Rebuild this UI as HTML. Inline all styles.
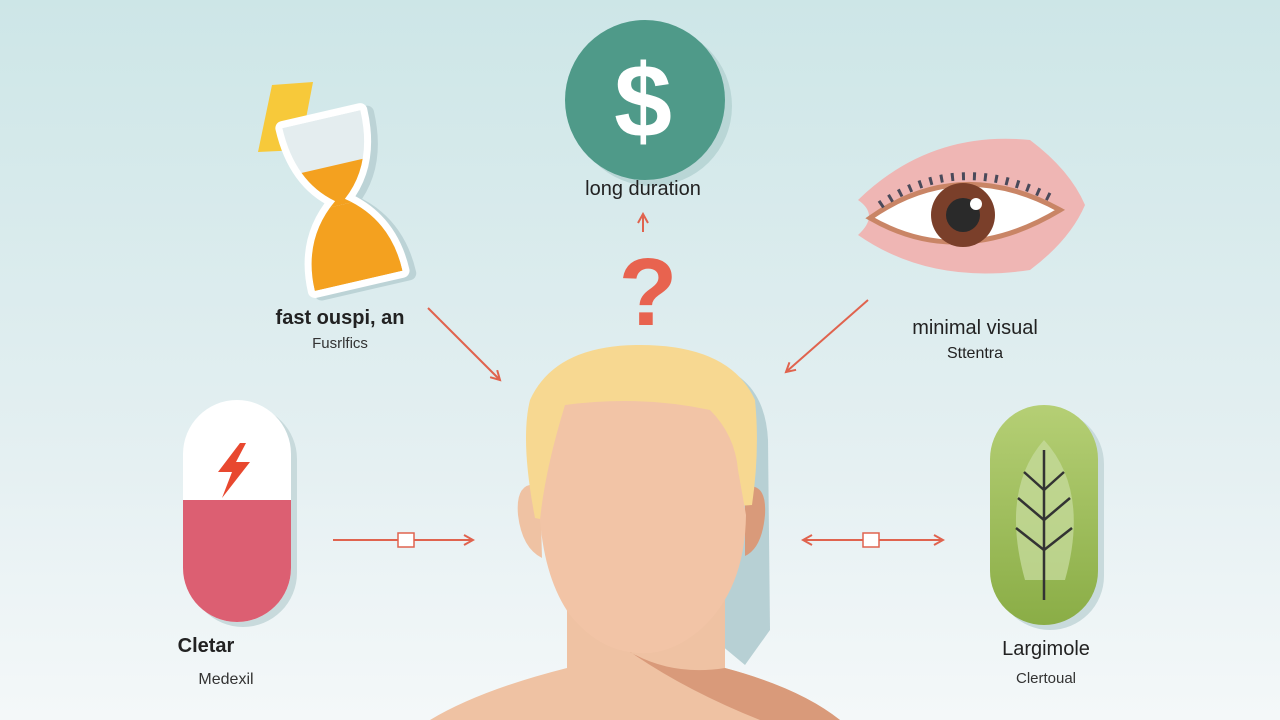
<!DOCTYPE html>
<html><head><meta charset="utf-8"><style>
html,body{margin:0;padding:0;width:1280px;height:720px;overflow:hidden}
svg{display:block}
text{font-family:"Liberation Sans",sans-serif}
</style></head><body>
<svg width="1280" height="720" viewBox="0 0 1280 720" xmlns="http://www.w3.org/2000/svg">
<defs>
<linearGradient id="bg" x1="0" y1="0" x2="0" y2="1">
<stop offset="0" stop-color="#cde6e7"/><stop offset="0.6" stop-color="#e3eff1"/><stop offset="1" stop-color="#f4f8f9"/>
</linearGradient>
<linearGradient id="gr" x1="0" y1="0" x2="0" y2="1"><stop offset="0" stop-color="#b5cf75"/><stop offset="1" stop-color="#8aad46"/></linearGradient>
<marker id="ah" markerWidth="12" markerHeight="12" refX="10" refY="6" orient="auto" markerUnits="userSpaceOnUse"><path d="M1,1 L10,6 L1,11" fill="none" stroke="#e0634e" stroke-width="2"/></marker>
<clipPath id="hg"><path d="M300,117 L380,117 Q380,172 345,200 Q385,230 385,283 L295,283 Q295,230 335,200 Q300,172 300,117 Z"/></clipPath>
</defs>
<rect width="1280" height="720" fill="url(#bg)"/>

<!-- dollar -->
<circle cx="652" cy="106" r="80" fill="#b9d6d6"/>
<circle cx="645" cy="100" r="80" fill="#4f9a89"/>
<text x="643" y="137" font-size="104" font-weight="bold" fill="#fff" text-anchor="middle">$</text>
<text x="643" y="195" font-size="20" fill="#222" text-anchor="middle">long duration</text>
<line x1="643" y1="232" x2="643" y2="214" stroke="#e0634e" stroke-width="2" marker-end="url(#ah)"/>
<text x="648" y="325" font-size="96" font-weight="bold" fill="#e8634f" text-anchor="middle">?</text>

<!-- hourglass -->
<polygon points="272,85 313,82 300,150 258,152" fill="#f7c93a"/>
<g transform="rotate(-13 340 200)">
<path d="M300,117 L380,117 Q380,172 345,200 Q385,230 385,283 L295,283 Q295,230 335,200 Q300,172 300,117 Z" fill="#bcd3d6" stroke="#bcd3d6" stroke-width="14" stroke-linejoin="round" transform="translate(6,4)"/>
<path d="M300,117 L380,117 Q380,172 345,200 Q385,230 385,283 L295,283 Q295,230 335,200 Q300,172 300,117 Z" fill="#fff" stroke="#fff" stroke-width="14" stroke-linejoin="round"/>
<g clip-path="url(#hg)">
<rect x="290" y="110" width="100" height="180" fill="#e4edef"/>
<rect x="290" y="165" width="100" height="40" fill="#f4a11f"/>
<rect x="290" y="205" width="100" height="85" fill="#f4a11f"/>
</g>
</g>
<text x="340" y="324" font-size="20" font-weight="bold" fill="#222" text-anchor="middle">fast ouspi, an</text>
<text x="340" y="348" font-size="15" fill="#333" text-anchor="middle">Fusrlfics</text>

<!-- eye -->
<path d="M858,200 Q930,130 1030,140 Q1070,170 1085,205 Q1070,240 1030,270 Q930,285 858,235 Q880,215 858,200 Z" fill="#efb6b4"/>
<path d="M870,218 Q960,155 1060,210 Q960,270 870,218 Z" fill="#fff" stroke="#c98566" stroke-width="5"/>
<path d="M880,205 Q960,150 1055,200" fill="none" stroke="#4a4a5a" stroke-width="8" stroke-dasharray="3,8"/>
<circle cx="963" cy="215" r="32" fill="#7a3f2a"/>
<circle cx="963" cy="215" r="17" fill="#2a2a2a"/>
<circle cx="976" cy="204" r="6" fill="#fff"/>
<text x="975" y="334" font-size="20" fill="#222" text-anchor="middle">minimal visual</text>
<text x="975" y="358" font-size="16" fill="#222" text-anchor="middle">Sttentra</text>

<!-- diag arrows -->
<line x1="440" y1="320" x2="500" y2="380" stroke="#e0634e" stroke-width="2" marker-end="url(#ah)"/>
<line x1="440" y1="320" x2="428" y2="308" stroke="#e0634e" stroke-width="2"/>
<line x1="868" y1="300" x2="786" y2="372" stroke="#e0634e" stroke-width="2" marker-end="url(#ah)"/>

<!-- left pill -->
<rect x="189" y="405" width="108" height="222" rx="54" fill="#c8dadc"/>
<rect x="183" y="400" width="108" height="222" rx="54" fill="#fff"/>
<path d="M183,500 L291,500 L291,568 A54,54 0 0 1 183,568 Z" fill="#dc5f72"/>
<polygon points="240,443 218,472 232,472 222,498 250,462 236,462 246,443" fill="#e8482f"/>
<text x="206" y="652" font-size="20" font-weight="bold" fill="#222" text-anchor="middle">Cletar</text>
<text x="226" y="684" font-size="16" fill="#333" text-anchor="middle">Medexil</text>

<!-- right pill -->
<rect x="996" y="410" width="108" height="220" rx="54" fill="#c8dadc"/>
<rect x="990" y="405" width="108" height="220" rx="54" fill="url(#gr)"/>
<path d="M1044,440 Q1000,490 1025,580 L1065,580 Q1090,490 1044,440 Z" fill="#c4d99a" opacity="0.8"/>
<g stroke="#333" stroke-width="2.5" fill="none">
<line x1="1044" y1="450" x2="1044" y2="600"/>
<path d="M1044,490 L1024,472 M1044,490 L1064,472 M1044,520 L1018,498 M1044,520 L1070,498 M1044,550 L1016,528 M1044,550 L1072,528"/>
</g>
<text x="1046" y="655" font-size="20" fill="#222" text-anchor="middle">Largimole</text>
<text x="1046" y="683" font-size="15" fill="#333" text-anchor="middle">Clertoual</text>

<!-- horiz arrows -->
<line x1="333" y1="540" x2="473" y2="540" stroke="#e0634e" stroke-width="2" marker-end="url(#ah)"/>
<rect x="398" y="533" width="16" height="14" fill="#fff" stroke="#e0634e" stroke-width="1.5"/>
<line x1="943" y1="540" x2="803" y2="540" stroke="#e0634e" stroke-width="2" marker-end="url(#ah)"/>
<line x1="803" y1="540" x2="943" y2="540" stroke="#e0634e" stroke-width="2" marker-end="url(#ah)"/>
<rect x="863" y="533" width="16" height="14" fill="#fff" stroke="#e0634e" stroke-width="1.5"/>

<!-- person -->
<path d="M715,365 Q765,380 768,440 L770,630 L745,665 L715,640 Z" fill="#b7d0d4"/>
<path d="M430,720 Q480,690 567,668 L567,600 L725,600 L725,668 Q800,688 840,720 Z" fill="#efc2a3"/>
<path d="M595,625 Q650,680 725,668 Q800,688 840,720 L760,720 Q660,680 595,625 Z" fill="#d99a7a"/>
<path d="M540,485 Q515,480 518,515 Q522,548 542,558 Z" fill="#efc2a3"/>
<path d="M745,487 Q767,482 765,515 Q762,548 745,556 Z" fill="#d99a7a"/>
<path d="M535,518 Q520,440 530,400 Q555,345 640,345 Q730,345 755,400 Q760,450 752,505 L545,520 Z" fill="#f7d891"/>
<path d="M565,405 Q640,395 710,410 Q735,435 738,470 L746,515 Q745,590 700,630 Q670,655 640,653 Q600,652 570,615 Q545,580 540,520 Q545,470 565,405 Z" fill="#f2c4a6"/>
</svg>
</body></html>
